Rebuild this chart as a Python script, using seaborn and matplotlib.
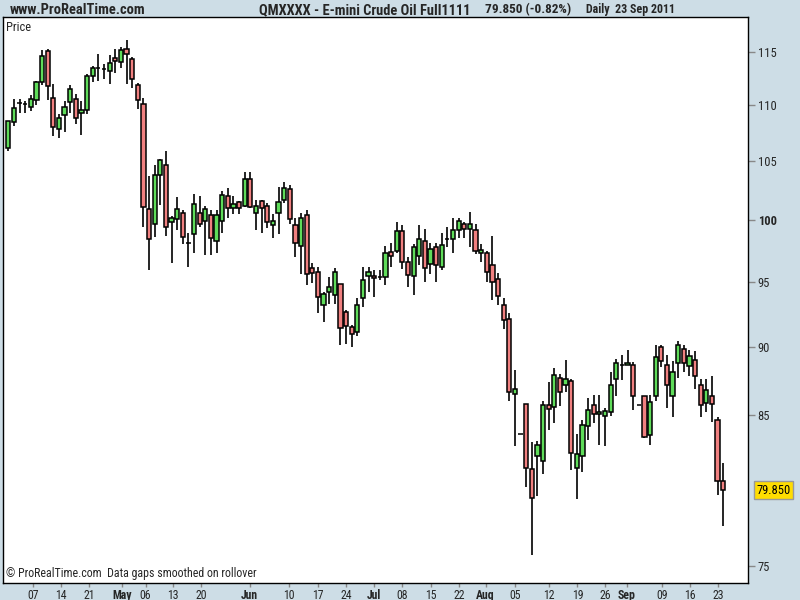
import numpy as np
import pandas as pd
import matplotlib
matplotlib.use('Agg')
import matplotlib.pyplot as plt
import matplotlib.transforms as mtransforms
from matplotlib import font_manager
from matplotlib.ticker import NullLocator
import seaborn as sns

# Daily OHLC, E-mini Crude Oil, Apr -> 23 Sep 2011
opens = [106.15, 108.5, 110.25, 110.1, 109.85, 110.5, 112.2, 115.1, 110.7, 107.9,
         109.1, 110.3, 110.55, 109.3, 109.6, 112.7, 113.5, 113.35, 113.15, 114.4,
         114.0, 115.3, 114.3, 111.9, 110.1, 100.95, 99.65, 103.8, 104.7, 99.8,
         100.05, 100.55, 98.1, 98.8, 100.55, 99.9, 100.4, 98.3, 99.95, 102.0,
         101.0, 101.5, 101.15, 103.45, 100.55, 101.55, 101.15, 99.55, 100.55, 101.65,
         102.6, 99.55, 97.85, 100.4, 96.05, 95.8, 93.15, 94.15, 93.95, 94.8,
         92.6, 91.45, 91.1, 93.7, 95.45, 95.45, 95.35, 95.35, 97.35, 97.45,
         99.05, 96.6, 95.45, 97.05, 98.25, 96.4, 97.75, 96.15, 98.45, 98.4,
         99.15, 99.65, 99.25, 99.15, 97.3, 97.3, 96.3, 95.2, 93.15, 92.1,
         86.5, 83.7, 85.8, 81.3, 82.2, 81.85, 85.75, 85.6, 87.65, 87.15,
         87.45, 81.35, 82.2, 84.25, 85.75, 85.1, 84.95, 85.25, 87.6, 88.65,
         88.65, 88.65, 85.75, 86.35, 83.6, 86.35, 90.0, 88.6, 86.4, 88.75,
         89.8, 88.55, 89.0, 87.2, 85.85, 86.35, 84.7, 80.51]
highs = [108.6, 110.55, 110.55, 110.4, 110.95, 112.3, 115.15, 115.3, 112.0, 109.2,
         110.4, 111.9, 111.05, 110.4, 112.9, 113.7, 114.8, 113.9, 114.75, 115.3,
         115.5, 116.2, 114.5, 112.1, 110.65, 103.7, 104.7, 105.2, 105.9, 100.3,
         101.9, 100.8, 98.95, 102.15, 102.0, 101.15, 100.8, 100.85, 102.4, 102.7,
         102.0, 101.55, 104.1, 104.1, 101.65, 101.7, 101.4, 100.5, 102.75, 103.2,
         102.95, 100.15, 100.55, 100.8, 96.5, 96.15, 94.2, 95.4, 96.05, 94.85,
         92.75, 91.65, 93.75, 96.2, 96.2, 95.9, 95.95, 97.85, 98.1, 99.8,
         99.55, 96.95, 98.0, 99.55, 99.25, 98.1, 98.1, 98.95, 99.4, 100.15,
         100.2, 99.8, 100.65, 99.65, 98.0, 97.45, 98.65, 95.65, 93.75, 92.55,
         88.3, 83.7, 85.8, 83.1, 83.2, 86.0, 87.4, 88.4, 87.95, 89.0,
         87.6, 83.7, 84.65, 86.25, 86.45, 86.45, 85.55, 88.15, 89.05, 89.4,
         89.75, 88.85, 85.75, 86.35, 86.45, 90.1, 90.1, 89.4, 88.9, 90.4,
         90.1, 89.75, 89.7, 87.6, 87.6, 87.85, 84.85, 81.7]
lows = [105.9, 108.1, 109.35, 109.3, 109.5, 110.0, 111.9, 110.5, 107.2, 107.1,
        107.6, 109.35, 108.35, 107.3, 109.2, 112.2, 112.3, 112.4, 112.0, 113.0,
        113.5, 112.0, 111.6, 109.7, 99.45, 95.9, 98.6, 101.25, 98.7, 96.5,
        99.2, 98.0, 96.2, 97.3, 99.4, 97.1, 97.1, 97.3, 98.95, 100.2,
        100.5, 100.5, 101.05, 101.0, 99.2, 98.9, 99.3, 98.5, 98.85, 101.4,
        99.65, 96.95, 95.6, 94.75, 94.9, 92.55, 91.85, 93.25, 93.25, 90.1,
        90.2, 89.95, 90.8, 93.0, 94.2, 93.8, 95.15, 94.75, 96.2, 97.3,
        96.0, 94.55, 93.95, 96.3, 94.95, 95.6, 95.0, 95.9, 97.75, 97.3,
        98.5, 98.5, 97.75, 97.2, 96.55, 94.95, 93.55, 93.15, 91.3, 86.0,
        82.85, 83.7, 80.1, 75.7, 79.5, 80.95, 84.0, 84.45, 85.65, 86.65,
        81.2, 79.3, 81.1, 83.25, 84.45, 82.95, 82.85, 84.95, 86.35, 87.5,
        88.65, 85.35, 85.75, 83.4, 82.9, 86.05, 88.45, 85.55, 84.9, 87.7,
        88.1, 87.85, 86.85, 84.9, 85.2, 84.55, 79.55, 77.5]
closes = [108.6, 109.75, 110.25, 110.1, 110.6, 112.15, 114.6, 111.8, 108.0, 108.9,
          109.9, 111.5, 108.9, 109.55, 112.7, 113.5, 113.5, 113.35, 113.95, 114.1,
          115.2, 114.85, 112.4, 110.5, 101.05, 98.4, 103.8, 105.1, 99.4, 100.2,
          100.9, 98.6, 98.1, 101.3, 99.7, 100.9, 98.5, 100.4, 102.1, 101.0,
          101.3, 101.0, 103.45, 101.05, 101.15, 101.0, 99.8, 99.9, 101.5, 102.7,
          100.05, 98.1, 100.15, 95.6, 95.65, 93.8, 94.0, 94.55, 95.75, 91.4,
          91.55, 90.95, 93.2, 95.1, 95.75, 95.3, 95.35, 97.3, 97.05, 99.05,
          96.55, 95.5, 97.75, 98.4, 96.05, 97.6, 96.3, 97.9, 98.45, 99.15,
          99.9, 99.25, 99.65, 97.45, 97.5, 95.75, 94.95, 93.85, 92.0, 86.65,
          86.85, 83.7, 81.35, 79.35, 82.95, 85.75, 85.45, 87.9, 86.65, 87.6,
          82.35, 82.3, 84.3, 85.35, 85.1, 85.25, 85.3, 87.15, 88.75, 88.65,
          88.8, 86.35, 85.75, 83.5, 85.95, 89.2, 88.9, 87.15, 88.1, 90.1,
          88.8, 89.3, 87.85, 85.75, 86.8, 85.8, 80.51, 79.85]

tick_pos = [4.4, 9.4, 14.4, 20.2, 24.4, 29.3, 34.2, 42.9, 49.9, 55.0, 60.0, 64.9,
            70.0, 75.1, 80.1, 84.8, 90.0, 96.1, 101.1, 106.0, 109.9, 116.1, 121.1, 126.1]
tick_labels = ['07', '14', '21', 'May', '06', '13', '20', 'Jun', '10', '17', '24', 'Jul',
               '08', '15', '22', 'Aug', '05', '12', '19', '26', 'Sep', '09', '16', '23']
months = ['May', 'Jun', 'Jul', 'Aug', 'Sep']
price_ticks = [75, 85, 90, 95, 100, 105, 110, 115]
last_price = 79.85

BG = '#cddde6'
UP = '#5fdc5a'
DOWN = '#f08080'

sns.set_theme(style='white')

# police étroite si disponible, sinon Liberation Sans
installed = {f.name for f in font_manager.fontManager.ttflist}
narrow = next((n for n in ['Liberation Sans Narrow', 'Arial Narrow', 'DejaVu Sans Condensed',
                           'Roboto Condensed', 'Open Sans Condensed', 'Noto Sans Condensed']
               if n in installed), 'Liberation Sans')
plt.rcParams['font.family'] = [narrow, 'DejaVu Sans']

df = pd.DataFrame({'open': opens, 'high': highs, 'low': lows, 'close': closes})
df['idx'] = np.arange(len(df))
df['body_lo'] = df[['open', 'close']].min(axis=1)
df['body_hi'] = df[['open', 'close']].max(axis=1)
df['colour'] = np.where(df['close'] > df['open'], UP,
                        np.where(df['close'] < df['open'], DOWN, 'black'))

fig = plt.figure(figsize=(8, 6), dpi=100, facecolor=BG)
ax = fig.add_axes([0.00375, 0.0283, 0.93125, 0.9434])
ax.set_facecolor('white')
ax.set_yscale('log')

# mèches puis corps des bougies
ax.vlines(df['idx'], df['low'], df['high'], color='black', linewidth=1.2, zorder=2)
ax.bar(df['idx'], df['body_hi'] - df['body_lo'], bottom=df['body_lo'], width=0.75,
       color=df['colour'], edgecolor='black', linewidth=1.1, zorder=3)

ax.set_xlim(-0.94, 131.4)
ax.set_ylim(73.93, 118.4)

# axe des prix à droite
ax.yaxis.tick_right()
ax.yaxis.set_minor_locator(NullLocator())
ax.set_yticks(price_ticks)
ax.set_yticklabels([str(p) for p in price_ticks])
for lab in ax.get_yticklabels():
    if lab.get_text() == '100':
        lab.set_fontweight('bold')
ax.tick_params(axis='y', which='major', direction='out', length=5, width=1,
               color='#888888', labelsize=9, pad=2, right=True, left=False)

ax.set_xticks(tick_pos)
ax.set_xticklabels(tick_labels)
for lab in ax.get_xticklabels():
    if lab.get_text() in months:
        lab.set_fontweight('bold')
        lab.set_fontsize(9)
ax.tick_params(axis='x', which='major', direction='out', length=3, width=1,
               color='#888888', labelsize=8.5, pad=1, bottom=True)

for sp in ax.spines.values():
    sp.set_color('black')
    sp.set_linewidth(1)

# étiquette du dernier cours
trans = mtransforms.blended_transform_factory(ax.transAxes, ax.transData)
ax.text(1.011, last_price, f'{last_price:.3f}', transform=trans, ha='left', va='center',
        fontsize=9, color='black',
        bbox=dict(boxstyle='square,pad=0.2', facecolor='#ffdd00', edgecolor='#999999'))

renderer = fig.canvas.get_renderer()


def fit_width(txt, width_px, max_size=10.5):
    # ajuste la taille de police pour retrouver la largeur du modèle
    w = txt.get_window_extent(renderer).width
    txt.set_fontsize(min(max_size, txt.get_fontsize() * width_px / w))


fit_width(ax.text(0.004, 0.993, 'Price', transform=ax.transAxes, ha='left', va='top',
                  fontsize=8), 25)
fit_width(ax.text(0.004, 0.006, '\u00a9 ProRealTime.com  Data gaps smoothed on rollover',
                  transform=ax.transAxes, ha='left', va='bottom', fontsize=8), 252)

header_y = 1 - 10 / 600
fit_width(fig.text(10 / 800, header_y, 'www.ProRealTime.com', ha='left', va='center',
                   fontsize=9, fontweight='bold'), 136)
fit_width(fig.text(259 / 800, header_y, 'QMXXXX - E-mini Crude Oil Full1111', ha='left',
                   va='center', fontsize=9, fontweight='bold'), 212)
fit_width(fig.text(485 / 800, header_y, '79.850 (-0.82%)', ha='left', va='center',
                   fontsize=9, fontweight='bold'), 86)
fit_width(fig.text(586 / 800, header_y, 'Daily  23 Sep 2011', ha='left', va='center',
                   fontsize=9, fontweight='bold'), 90)

fig.savefig('out.png', dpi=100, facecolor=BG)
